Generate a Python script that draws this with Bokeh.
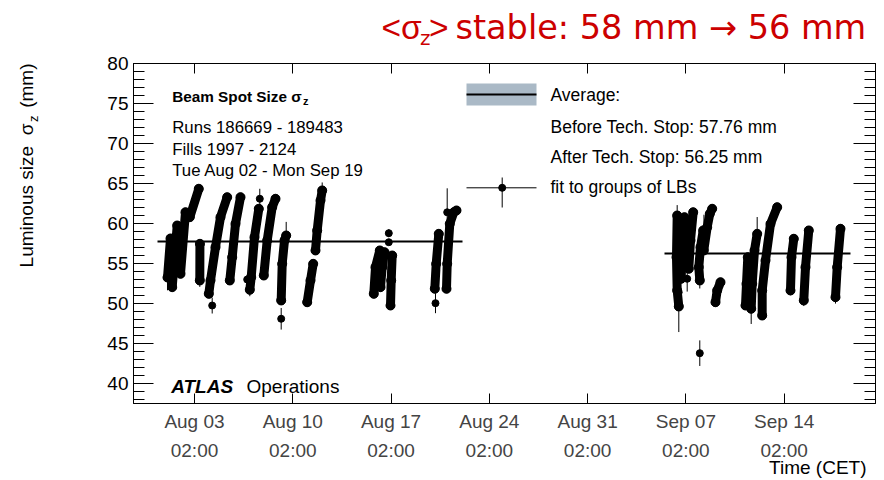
import pandas as pd
from bokeh.plotting import figure
from bokeh.models import (Range1d, LinearAxis, DatetimeAxis, FixedTicker, SingleIntervalTicker,
                          DatetimeTickFormatter, Label)
from bokeh.embed import file_html
from bokeh.resources import INLINE

# ---------------- data ----------------
# x: time as fractional day-of-month counted from 2011-07-31 00:00 CET (Aug 1 00:00 = 1.0, Sep 7 00:00 = 38.0)
# y: luminous size sigma_z in mm
fills_before_x = [
    [1.160, 1.374], [1.495, 1.851], [2.086, 2.442], [2.748, 3.389], [3.461, 3.470],
    [4.102, 4.223, 4.579, 4.935, 5.412], [5.597, 5.768, 6.003, 6.360],
    [7.022, 7.122, 7.357, 7.663], [8.019, 8.261, 8.617, 8.852],
    [9.258, 9.330, 9.493, 9.614], [11.110, 11.345, 11.537],
    [11.701, 11.822, 12.058, 12.178], [15.853, 15.975, 16.281],
    [16.331, 16.452, 16.616], [17.044, 17.093, 17.164], [20.199, 20.298, 20.483],
    [21.032, 21.082, 21.267, 21.552, 21.744],
]
fills_before_y = [
    [53.25, 58.13], [52.04, 59.75], [53.71, 61.41], [60.79, 64.34], [52.88, 57.46],
    [51.21, 52.88, 57.04, 60.79, 63.29], [52.88, 55.79, 59.96, 63.29],
    [51.71, 53.29, 58.29, 61.84], [53.50, 57.88, 62.04, 63.09],
    [50.38, 54.96, 57.88, 58.50], [50.16, 52.88, 54.96],
    [56.63, 59.13, 62.88, 64.13], [51.21, 54.54, 56.63],
    [52.04, 54.54, 56.41], [49.75, 52.88, 56.00], [51.84, 54.96, 58.71],
    [51.84, 54.96, 59.96, 61.41, 61.63],
]
fills_after_x = [
    [37.578, 37.463, 37.413, 37.463], [37.748, 37.819, 37.983], [38.289, 38.411, 38.603],
    [39.073, 39.002, 39.123, 39.315], [39.358, 39.600, 39.785, 39.956],
    [40.191, 40.312, 40.548], [42.328, 42.399, 42.492], [42.734, 42.805, 42.969, 43.161],
    [43.517, 43.517, 43.753, 44.109, 44.586], [45.533, 45.604, 45.768],
    [46.480, 46.602, 46.837], [48.738, 48.859, 49.094],
]
fills_after_y = [
    [49.63, 51.63, 55.79, 61.00], [53.09, 56.63, 60.79], [54.34, 57.88, 61.41],
    [52.88, 54.54, 57.04, 59.13], [56.63, 59.54, 61.21, 61.84],
    [50.16, 51.63, 52.66], [49.75, 52.46, 55.79], [49.34, 52.46, 56.63, 58.71],
    [48.50, 51.63, 55.38, 59.96, 62.04], [51.63, 55.79, 58.09],
    [50.38, 54.54, 59.13], [50.79, 54.54, 59.34],
]
# single fits with visible error bars
pts_x = [1.160, 3.461, 4.344, 6.837, 7.022, 7.734, 9.258, 9.614, 12.178, 16.922, 16.922,
         20.248, 21.082, 37.578, 37.570, 38.176, 39.073, 39.370, 39.073, 42.734, 43.161,
         37.463, 45.533, 46.480, 48.738]
pts_y = [53.25, 52.88, 49.75, 53.00, 51.71, 63.09, 48.09, 58.50, 64.13, 58.79, 57.66,
         50.04, 61.40, 49.63, 51.40, 53.09, 52.88, 59.10, 43.79, 49.34, 58.71,
         61.00, 51.63, 50.38, 50.79]
pts_err = [1.6, 0.8, 1.0, 0.6, 0.8, 1.25, 1.35, 1.7, 1.0, 0.5, 0.3,
           1.25, 3.0, 3.2, 1.5, 1.6, 1.0, 2.0, 1.6, 1.9, 2.1,
           1.3, 0.6, 0.7, 0.8]

avg_before = 57.76
avg_before_span = [0.448, 22.172]
avg_after = 56.25
avg_after_span = [36.559, 49.807]

tick_dates = ["2011-08-03 02:00", "2011-08-10 02:00", "2011-08-17 02:00", "2011-08-24 02:00",
              "2011-08-31 02:00", "2011-09-07 02:00", "2011-09-14 02:00"]
y_tick_step = 5

# ---------------- helpers ----------------
MS_DAY = 86400000.0
T0 = pd.Timestamp("2011-07-31").value / 1e6


def to_ms(d):
    return T0 + d * MS_DAY


XS, XE = to_ms(-1.2614), to_ms(51.588)
YS, YE = 37.5, 80.0
FL, FR, FT, FB = 133, 875, 63, 403


def X(px):
    return XS + (px - FL) * (XE - XS) / (FR - FL)


def Y(py):
    return YE - (py - FT) * (YE - YS) / (FB - FT)


tick_ms = [pd.Timestamp(s).value / 1e6 for s in tick_dates]
FONT = "Liberation Sans"

p = figure(frame_width=FR - FL, frame_height=FB - FT, x_axis_type="datetime",
           x_range=Range1d(XS, XE), y_range=Range1d(YS, YE),
           output_backend="svg", toolbar_location=None,
           min_border_left=FL, min_border_right=884 - FR, min_border_top=FT, min_border_bottom=480 - FB)
p.title.visible = False
p.xgrid.visible = False
p.ygrid.visible = False
p.outline_line_color = "black"
p.background_fill_color = "white"
p.border_fill_color = "white"

# y axes
ya = p.yaxis[0]
ya.ticker = SingleIntervalTicker(interval=y_tick_step, num_minor_ticks=5)
ya.major_tick_in = 20
ya.major_tick_out = 0
ya.minor_tick_in = 11
ya.minor_tick_out = 0
ya.major_label_text_font = FONT
ya.major_label_text_font_size = "19px"
ya.major_label_text_color = "black"
ya.major_label_standoff = 5
ya.axis_line_color = "black"
ya.major_tick_line_color = "black"
ya.minor_tick_line_color = "black"

yr = LinearAxis(ticker=SingleIntervalTicker(interval=y_tick_step, num_minor_ticks=5),
                major_tick_in=22, major_tick_out=0, minor_tick_in=11, minor_tick_out=0,
                major_label_text_color=None, major_label_text_font_size="0px",
                major_label_standoff=0, axis_label_standoff=0)
p.add_layout(yr, "right")

# x axes
xa = p.xaxis[0]
xa.ticker = FixedTicker(ticks=tick_ms)
fmt_date = "%b %d"
xa.formatter = DatetimeTickFormatter(seconds=fmt_date, minsec=fmt_date, minutes=fmt_date, hourmin=fmt_date,
                                     hours=fmt_date, days=fmt_date, months=fmt_date, years=fmt_date)
xa.major_tick_in = 10
xa.major_tick_out = 0
xa.minor_tick_in = 0
xa.minor_tick_out = 0
xa.major_label_text_font = FONT
xa.major_label_text_font_size = "19px"
xa.major_label_standoff = 7

fmt_time = "%H:%M"
xa2 = DatetimeAxis(ticker=FixedTicker(ticks=tick_ms),
                   formatter=DatetimeTickFormatter(seconds=fmt_time, minsec=fmt_time, minutes=fmt_time,
                                                   hourmin=fmt_time, hours=fmt_time, days=fmt_time,
                                                   months=fmt_time, years=fmt_time),
                   axis_line_color=None, major_tick_line_color=None, minor_tick_line_color=None,
                   major_label_text_font=FONT, major_label_text_font_size="19px", major_label_standoff=-1)
p.add_layout(xa2, "below")

xt = LinearAxis(ticker=FixedTicker(ticks=tick_ms), major_tick_in=10, major_tick_out=0,
                minor_tick_in=0, minor_tick_out=0, major_label_text_color=None,
                major_label_text_font_size="0px", major_label_standoff=0, axis_label_standoff=0)
p.add_layout(xt, "above")

# ---------------- data glyphs ----------------
fx = [[to_ms(v) for v in f] for f in fills_before_x + fills_after_x]
fy = fills_before_y + fills_after_y
p.segment(x0=[to_ms(v) for v in pts_x], y0=[y - e for y, e in zip(pts_y, pts_err)],
          x1=[to_ms(v) for v in pts_x], y1=[y + e for y, e in zip(pts_y, pts_err)],
          line_color="black", line_width=1)
p.multi_line(xs=fx, ys=fy, line_color="black", line_width=9, line_cap="round", line_join="round")
vx = [x for f in fx for x in f]
vy = [y for f in fy for y in f]
p.scatter(x=vx, y=vy, size=9, color="black")
p.scatter(x=[to_ms(v) for v in pts_x], y=pts_y, size=7, color="black")

# averages
p.segment(x0=[to_ms(avg_before_span[0]), to_ms(avg_after_span[0])], y0=[avg_before, avg_after],
          x1=[to_ms(avg_before_span[1]), to_ms(avg_after_span[1])], y1=[avg_before, avg_after],
          line_color="black", line_width=2)

# ---------------- legend (drawn) ----------------
p.quad(left=[X(466)], right=[X(536)], top=[Y(83)], bottom=[Y(105)], fill_color="#AAB9C6", line_color=None)
p.segment(x0=[X(466)], y0=[Y(94)], x1=[X(536)], y1=[Y(94)], line_color="black", line_width=2)
p.segment(x0=[X(466), X(501.7)], y0=[Y(187.3), Y(177)], x1=[X(536), X(501.7)], y1=[Y(187.3), Y(207)],
          line_color="black", line_width=1)
p.scatter(x=[X(501.7)], y=[Y(187.3)], size=7, color="black")

SHIFT = 0.37  # rendered baseline sits this many ems below the anchor


def lab(text, px, py, size, font=FONT, style="normal", color="black", align="left", angle=0.0,
        place=None):
    if angle:
        px = px - SHIFT * size
    else:
        py = py - SHIFT * size
    lbl = Label(x=X(px), y=Y(py), text=text, text_font=font, text_font_size=f"{size}px",
                text_font_style=style, text_color=color, text_align=align,
                text_baseline="alphabetic", angle=angle)
    if place is None:
        p.add_layout(lbl)
    else:
        p.add_layout(lbl, place)


lab("Average:", 550, 101, 17.5)
lab(f"Before Tech. Stop: {avg_before:.2f} mm", 550, 133, 17.5)
lab(f"After Tech. Stop: {avg_after:.2f} mm", 550, 163, 17.5)
lab("fit to groups of LBs", 550, 193, 17.5)

lab("Beam Spot Size \u03c3", 171.7, 101.7, 15.3, style="bold")
lab("z", 302.5, 104.5, 11, style="bold")
lab("Runs 186669 - 189483", 171.7, 133.3, 16.8)
lab("Fills 1997 - 2124", 171.7, 155, 16.8)
lab("Tue Aug 02 - Mon Sep 19", 171.7, 176.7, 16.8)

lab("ATLAS", 170.7, 393.3, 19, style="bold italic")
lab("Operations", 246, 393.3, 19)

# texts outside the frame live in the side panels so they are not clipped
NB = "\u00a0"
lab("Time (CET)", 866, 474, 19, align="right", place="below")
lab(f"Luminous size{NB}{NB}\u03c3{NB}{NB}{NB}(mm)", 33.3, 63, 19, align="right", angle=1.5708, place="left")
lab("z", 37.5, 115, 13, align="right", angle=1.5708, place="above")

RED = "#CC0000"
TF = "DejaVu Sans"
lab("<\u03c3", 381, 39, 33.5, color=RED, place="left")
lab("z", 419.5, 45, 20, font=TF, color=RED, place="left")
lab(">", 428.5, 39, 33.5, color=RED, place="left")
lab("stable: 58 mm \u2192 56 mm", 455, 39, 33.5, font=TF, color=RED, place="above")

open("out.html", "w").write(file_html(p, INLINE))
